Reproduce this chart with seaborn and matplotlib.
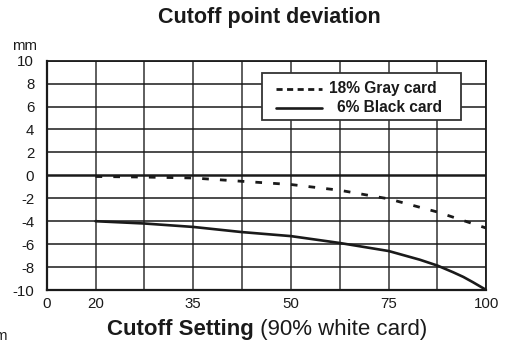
import matplotlib
matplotlib.use("Agg")
import matplotlib.pyplot as plt
import seaborn as sns
import pandas as pd
from matplotlib.patches import Rectangle
from matplotlib.lines import Line2D

# Cutoff setting labels and their positions on the (non-linear) x scale
setting_labels = ["0", "20", "35", "50", "75", "100"]
setting_pos = [0, 1, 3, 5, 7, 9]

# Deviation readings (mm) along the scale
gray_pos = [1, 2, 3, 4, 5, 6, 7, 8, 9]
gray_mm = [-0.1, -0.15, -0.23, -0.52, -0.8, -1.3, -2.05, -3.2, -4.6]
black_pos = [1, 2, 3, 4, 5, 6, 7, 7.64, 8, 8.32, 8.53, 8.73, 9]
black_mm = [-4.0, -4.2, -4.5, -4.95, -5.3, -5.9, -6.6, -7.36, -7.87, -8.45, -8.86, -9.33, -10.0]

sns.set_style("white")
plt.rcParams["font.family"] = ["Liberation Sans", "DejaVu Sans"]

ink = "#1a1a1a"
fig = plt.figure(figsize=(5.12, 3.49), dpi=100)
ax = fig.add_axes([46.7 / 512, 1 - 290 / 349, (486.3 - 46.7) / 512, (290 - 60.7) / 349])

gray_df = pd.DataFrame({"pos": gray_pos, "mm": gray_mm})
black_df = pd.DataFrame({"pos": black_pos, "mm": black_mm})

sns.lineplot(data=gray_df, x="pos", y="mm", ax=ax, color=ink, lw=2.0,
             dashes=False, linestyle=(0, (2.4, 4.0)), zorder=4)
sns.lineplot(data=black_df, x="pos", y="mm", ax=ax, color=ink, lw=1.9, zorder=4)

tick_size = 10.8
ax.set_xlim(0, 9)
ax.set_ylim(-10, 10)
ax.set_xticks(range(10))
ax.set_xticklabels([setting_labels[setting_pos.index(i)] if i in setting_pos else "" for i in range(10)])
ax.set_yticks(range(-10, 11, 2))
ax.set_yticklabels([str(v) for v in range(-10, 11, 2)])
ax.tick_params(length=0, labelsize=tick_size, colors=ink)
ax.tick_params(axis="y", pad=9)
ax.tick_params(axis="x", pad=5)
ax.set_xlabel("")
ax.set_ylabel("")

for x in range(1, 10):
    ax.axvline(x, color="#333333", lw=1.1, zorder=1)
for y in range(-8, 11, 2):
    ax.axhline(y, color=ink, lw=1.1 if y != 0 else 1.8, zorder=1)
for s in ax.spines.values():
    s.set_color(ink)
    s.set_linewidth(1.3)
ax.spines["left"].set_linewidth(1.6)
ax.spines["bottom"].set_linewidth(1.6)

# Legend box
ax.add_patch(Rectangle((4.41, 4.86), 8.48 - 4.41, 8.94 - 4.86, facecolor="white",
                       edgecolor="#333333", lw=1.3, zorder=5))
ax.add_line(Line2D([4.69, 5.63], [7.56, 7.56], color=ink, lw=2.0,
                   linestyle=(0, (2.2, 1.6)), zorder=6))
ax.add_line(Line2D([4.69, 5.63], [5.9, 5.9], color=ink, lw=1.9, zorder=6))
ax.text(5.78, 7.56, "18% Gray card", fontsize=11.2, fontweight="bold", color=ink,
        va="center", ha="left", zorder=7)
ax.text(5.94, 5.9, "6% Black card", fontsize=11.2, fontweight="bold", color=ink,
        va="center", ha="left", zorder=7)

fig.text(269 / 512, 1 - 17 / 349, "Cutoff point deviation", fontsize=15.5,
         fontweight="bold", color=ink, ha="center", va="center")
fig.text(37.5 / 512, 1 - 46 / 349, "mm", fontsize=tick_size, color=ink, ha="right", va="center")
fig.text(-6 / 512, 1 - 336 / 349, "m", fontsize=tick_size, color=ink, ha="left", va="center")

# Mixed-weight x axis title
fig.canvas.draw()
r = fig.canvas.get_renderer()
bold = fig.text(0, 1 - 330 / 349, "Cutoff Setting", fontsize=16, fontweight="bold",
                color=ink, ha="left", va="center")
reg = fig.text(0, 1 - 330 / 349, " (90% white card)", fontsize=16, color=ink,
               ha="left", va="center")
wb = bold.get_window_extent(r).width
wr = reg.get_window_extent(r).width
x0 = 267 - (wb + wr) / 2
bold.set_x(x0 / 512)
reg.set_x((x0 + wb) / 512)

fig.savefig("out.png", dpi=100, facecolor="white")
